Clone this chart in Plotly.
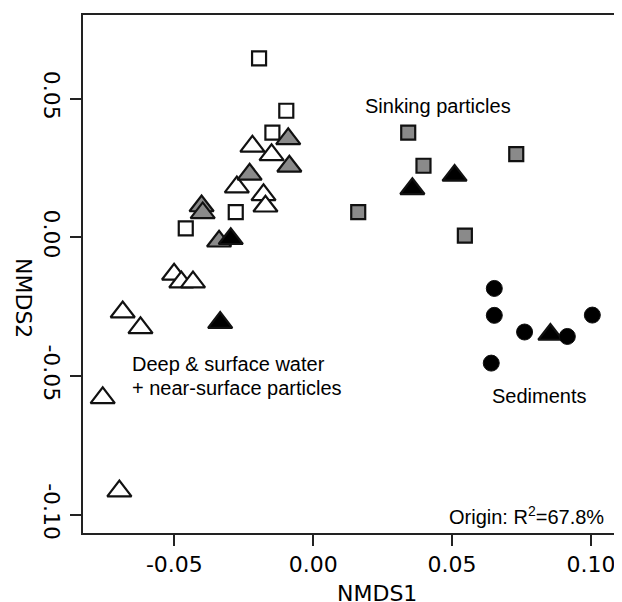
import plotly.graph_objects as go

# NMDS coordinates
open_sq_x = [-0.0195, -0.0097, -0.0147, -0.0279, -0.0459]
open_sq_y = [0.0645, 0.0456, 0.0377, 0.0091, 0.0032]

open_tri_x = [-0.0219, -0.0150, -0.0275, -0.0179, -0.0172, -0.0501, -0.0475, -0.0433,
              -0.0686, -0.0622, -0.0758, -0.0698]
open_tri_y = [0.0328, 0.0297, 0.0181, 0.0153, 0.0112, -0.0133, -0.0161, -0.0161,
              -0.0269, -0.0326, -0.0578, -0.0914]

gray_tri_x = [-0.0090, -0.0086, -0.0229, -0.0402, -0.0398, -0.0339]
gray_tri_y = [0.0355, 0.0256, 0.0227, 0.0113, 0.0088, -0.0014]

black_tri_x = [-0.0297, 0.0357, 0.0509, -0.0335, 0.0854]
black_tri_y = [-0.0005, 0.0175, 0.0223, -0.0307, -0.0350]

gray_sq_x = [0.0342, 0.0397, 0.0731, 0.0162, 0.0546]
gray_sq_y = [0.0377, 0.0258, 0.0300, 0.0091, 0.0006]

black_circ_x = [0.0652, 0.0652, 0.0761, 0.0915, 0.1005, 0.0641]
black_circ_y = [-0.0184, -0.0281, -0.0341, -0.0357, -0.0280, -0.0453]

x_ticks = [-0.05, 0.00, 0.05, 0.10]
x_tick_labels = ["-0.05", "0.00", "0.05", "0.10"]
y_ticks = [-0.10, -0.05, 0.00, 0.05]
y_tick_labels = ["-0.10", "-0.05", "0.00", "0.05"]

GRAY = "#8a8a8a"
EDGE = "#111111"
TRI = 21
SQ = 14
CIRC = 16

fig = go.Figure()

def add(xs, ys, symbol, size, fill, lw=2.2):
    fig.add_trace(go.Scatter(
        x=xs, y=ys, mode="markers", showlegend=False, hoverinfo="skip",
        marker=dict(symbol=symbol, size=size, color=fill,
                    line=dict(color=EDGE, width=lw))))

add(open_sq_x, open_sq_y, "square", SQ, "white")
add(gray_sq_x, gray_sq_y, "square", SQ, GRAY)
add(open_tri_x, open_tri_y, "triangle-up", TRI, "white")
add(gray_tri_x, gray_tri_y, "triangle-up", TRI, GRAY)
add(black_tri_x, black_tri_y, "triangle-up", TRI, "black")
add(black_circ_x, black_circ_y, "circle", CIRC, "black", 1)

ann_font = dict(family="Liberation Sans, Arial, sans-serif", size=20, color="black")
axis_font = dict(family="DejaVu Sans, sans-serif", size=22, color="black")

# page body has an 8px default margin; work in page pixels and shift
OFF = 8
W, H = 622 - OFF, 602 - OFF
# plot frame in page pixels: left 83, right 614, top 15, bottom 533
L, T = 83 - OFF, 15 - OFF
R = W - (614 - OFF)
B = H - (533 - OFF)
pw, ph = W - L - R, H - T - B


def px2paper(px, py):
    return ((px - OFF) - L) / pw, 1 - ((py - OFF) - T) / ph


annotations = [
    dict(text="Sinking particles", px=438, py=106, xanchor="center"),
    dict(text="Deep &amp; surface water", px=130, py=364, xanchor="left"),
    dict(text="+ near-surface particles", px=130, py=388, xanchor="left"),
    dict(text="Sediments", px=539, py=396, xanchor="center"),
    dict(text="Origin: R<sup>2</sup>=67.8%", px=606, py=515, xanchor="right"),
]

for a in annotations:
    ax_, ay_ = px2paper(a["px"], a["py"])
    fig.add_annotation(
        x=ax_, y=ay_, xref="paper", yref="paper",
        text=a["text"], showarrow=False, xanchor=a["xanchor"], yanchor="middle",
        font=ann_font)

# axis titles
tx, ty = px2paper(377, 593)
fig.add_annotation(x=tx, y=ty, xref="paper", yref="paper",
                   text="NMDS1", showarrow=False, font=axis_font,
                   xanchor="center", yanchor="middle")
tx, ty = px2paper(24, 298)
fig.add_annotation(x=tx, y=ty, xref="paper", yref="paper",
                   text="NMDS2", showarrow=False, font=axis_font, textangle=90,
                   xanchor="center", yanchor="middle")

axis_common = dict(showgrid=False, zeroline=False, showline=True, mirror=True,
                   linecolor="#222222", linewidth=1.5, ticks="outside", ticklen=11,
                   tickwidth=1.5, tickcolor="#222222", tickfont=axis_font,
                   automargin=False)

fig.update_layout(
    width=W, height=H, margin=dict(l=L, r=R, t=T, b=B),
    paper_bgcolor="white", plot_bgcolor="white",
    xaxis=dict(range=[-0.0829, 0.1083], tickvals=x_ticks, ticktext=x_tick_labels,
               **axis_common),
    yaxis=dict(range=[-0.1065, 0.0801], tickvals=y_ticks, ticktext=y_tick_labels,
               tickangle=90, **axis_common),
)

fig.write_html("out.html")
